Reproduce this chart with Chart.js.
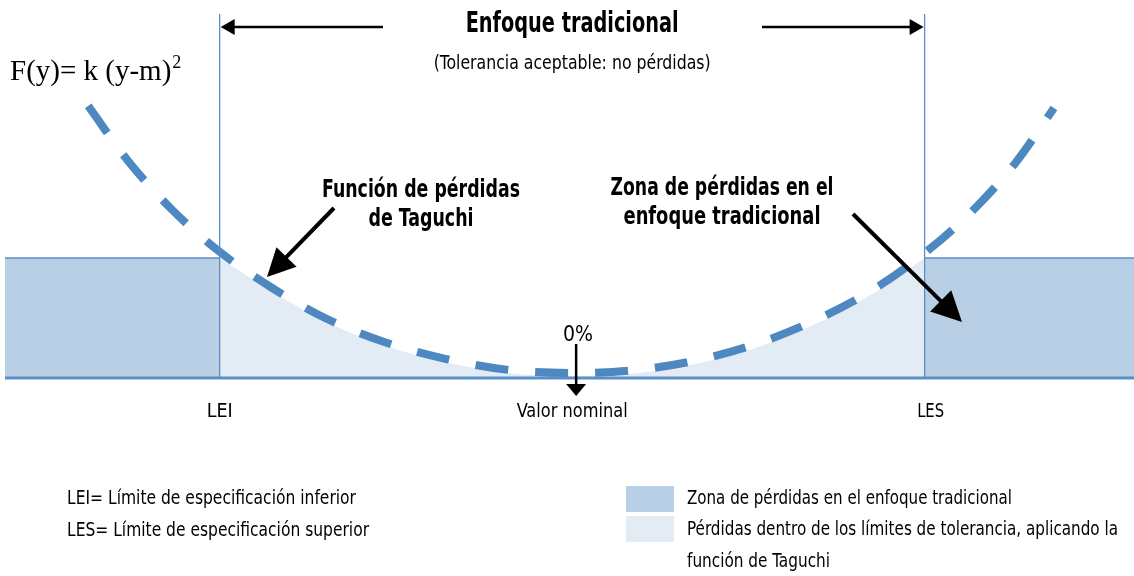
<!DOCTYPE html>
<html>
<head>
<meta charset="utf-8">
<script src="https://cdn.jsdelivr.net/npm/chart.js@4.4.1/dist/chart.umd.min.js"></script>
<style>
  html, body { margin: 0; padding: 0; background: #fff; }
  #wrap { width: 1134px; height: 576px; }
</style>
</head>
<body>
<div id="wrap"><canvas id="taguchi" width="1134" height="576"></canvas></div>
<script>
// x: distance from the nominal value (LEI = -1, LES = +1); y: loss (traditional loss zone = 1)
const xMin = -1.609, xMax = 1.594;
const limitsX = [-1, 1];
const lossLevel = 1;
const tickValues = [-1, 0, 1];
const tickLabels = ["LEI", "Valor nominal", "LES"];

// Taguchi loss curve
const curveX = [-1.373, -1.262, -1.140, -1.007, -0.851, -0.701, -0.533, -0.357, -0.179, 0, 0.182, 0.357, 0.530, 0.698, 0.857, 1.004, 1.138, 1.257, 1.367];
const curveY = [2.267, 1.817, 1.417, 1.067, 0.75, 0.50, 0.30, 0.158, 0.067, 0.042, 0.067, 0.15, 0.292, 0.492, 0.742, 1.05, 1.40, 1.79, 2.25];

// upper edge of the light area (losses inside the tolerance)
const fillX = [-1.0, -0.851, -0.701, -0.533, -0.357, -0.179, 0, 0.182, 0.357, 0.530, 0.698, 0.857, 1.0];
const fillY = [1.0, 0.72, 0.47, 0.27, 0.13, 0.04, 0.015, 0.04, 0.12, 0.26, 0.46, 0.71, 1.0];

const NARROW = '"Liberation Sans Narrow", "DejaVu Sans Condensed", "Roboto", sans-serif';
const SERIF = '"Liberation Serif", "DejaVu Serif", serif';
const DARK_ZONE = "#b9cfe5";
const LIGHT_ZONE = "#e3ebf5";
const EDGE = "#5b8fc7";
const CURVE = "#4d88c1";

const pts = (xs, ys) => xs.map((v, i) => ({ x: v, y: ys[i] }));

function arrow(ctx, x1, y1, x2, y2, len, half, lw) {
  const a = Math.atan2(y2 - y1, x2 - x1);
  const bx = x2 - len * Math.cos(a), by = y2 - len * Math.sin(a);
  ctx.save();
  ctx.strokeStyle = "#000";
  ctx.fillStyle = "#000";
  ctx.lineWidth = lw;
  ctx.beginPath();
  ctx.moveTo(x1, y1);
  ctx.lineTo(bx + Math.cos(a), by + Math.sin(a));
  ctx.stroke();
  ctx.beginPath();
  ctx.moveTo(x2, y2);
  ctx.lineTo(bx + half * Math.sin(a), by - half * Math.cos(a));
  ctx.lineTo(bx - half * Math.sin(a), by + half * Math.cos(a));
  ctx.closePath();
  ctx.fill();
  ctx.restore();
}

// maxW squeezes the text to the width it has in the original (condensed face)
function text(ctx, s, x, y, font, align, maxW) {
  ctx.font = font;
  ctx.textAlign = align || "center";
  if (maxW) ctx.fillText(s, x, y, maxW);
  else ctx.fillText(s, x, y);
}

const annotations = {
  id: "annotations",
  afterDatasetsDraw(chart) {
    const { ctx, scales: { x, y } } = chart;
    const lei = x.getPixelForValue(limitsX[0]);
    const les = x.getPixelForValue(limitsX[1]);
    const mid = x.getPixelForValue(0);
    const base = y.getPixelForValue(0);

    // limit lines
    ctx.save();
    ctx.strokeStyle = EDGE;
    ctx.lineWidth = 1.3;
    [lei, les].forEach((px) => {
      ctx.beginPath();
      ctx.moveTo(px, 14);
      ctx.lineTo(px, base);
      ctx.stroke();
    });
    ctx.restore();

    ctx.fillStyle = "#000";
    ctx.textBaseline = "alphabetic";

    // title
    text(ctx, "Enfoque tradicional", mid, 32, "bold 28px " + NARROW, "center", 213);
    text(ctx, "(Tolerancia aceptable: no pérdidas)", mid, 69, "20px " + NARROW, "center", 277);
    arrow(ctx, 383, 27, lei + 1, 27, 14, 8, 2.5);
    arrow(ctx, 762, 27, les - 1, 27, 14, 8, 2.5);

    // formula
    text(ctx, "F(y)= k (y-m)", 10, 80, "29px " + SERIF, "left");
    const w = ctx.measureText("F(y)= k (y-m)").width;
    text(ctx, "2", 10 + w + 1, 68, "18px " + SERIF, "left");

    // callouts
    text(ctx, "Función de pérdidas", 421, 197, "bold 25px " + NARROW, "center", 198);
    text(ctx, "de Taguchi", 421, 226, "bold 25px " + NARROW, "center", 105);
    arrow(ctx, 334, 208, 267, 277, 28, 14, 4);
    text(ctx, "Zona de pérdidas en el", 722, 195, "bold 25px " + NARROW, "center", 223);
    text(ctx, "enfoque tradicional", 722, 224, "bold 25px " + NARROW, "center", 197);
    arrow(ctx, 853, 214, 962, 322, 30, 15, 4);

    // nominal value
    text(ctx, "0%", 578, 341, "21px " + NARROW, "center", 30);
    arrow(ctx, mid + 4, 344, mid + 4, 396, 12, 10, 2.5);

    // x labels
    const tw = [26, 111, 27];
    tickValues.forEach((v, i) => {
      const off = i === 2 ? 6 : 0;
      text(ctx, tickLabels[i], x.getPixelForValue(v) + off, 417, "20px " + NARROW, "center", tw[i]);
    });

    // definitions
    text(ctx, "LEI= Límite de especificación inferior", 67, 504, "20px " + NARROW, "left", 289);
    text(ctx, "LES= Límite de especificación superior", 67, 536, "20px " + NARROW, "left", 302);

    // legend
    ctx.fillStyle = DARK_ZONE;
    ctx.fillRect(626, 486, 48, 26);
    ctx.fillStyle = LIGHT_ZONE;
    ctx.fillRect(626, 516, 48, 26);
    ctx.fillStyle = "#000";
    text(ctx, "Zona de pérdidas en el enfoque tradicional", 687, 504, "20px " + NARROW, "left", 325);
    text(ctx, "Pérdidas dentro de los límites de tolerancia, aplicando la", 687, 535, "20px " + NARROW, "left", 431);
    text(ctx, "función de Taguchi", 687, 567, "20px " + NARROW, "left", 143);
  },
};

new Chart(document.getElementById("taguchi"), {
  type: "scatter",
  data: {
    datasets: [
      {
        label: "Zona de pérdidas (LEI)",
        data: [{ x: xMin, y: lossLevel }, { x: limitsX[0], y: lossLevel }],
        showLine: true,
        fill: "origin",
        backgroundColor: DARK_ZONE,
        borderColor: EDGE,
        borderWidth: 1.5,
        pointRadius: 0,
        order: 5,
      },
      {
        label: "Zona de pérdidas (LES)",
        data: [{ x: limitsX[1], y: lossLevel }, { x: xMax, y: lossLevel }],
        showLine: true,
        fill: "origin",
        backgroundColor: DARK_ZONE,
        borderColor: EDGE,
        borderWidth: 1.5,
        pointRadius: 0,
        order: 5,
      },
      {
        label: "Pérdidas dentro de tolerancia",
        data: pts(fillX, fillY),
        showLine: true,
        fill: "origin",
        backgroundColor: LIGHT_ZONE,
        borderWidth: 0,
        pointRadius: 0,
        cubicInterpolationMode: "monotone",
        order: 4,
      },
      {
        label: "Base",
        data: [{ x: xMin, y: 0 }, { x: xMax, y: 0 }],
        showLine: true,
        borderColor: EDGE,
        borderWidth: 3,
        pointRadius: 0,
        order: 3,
      },
      {
        label: "F(y)",
        data: pts(curveX, curveY),
        showLine: true,
        borderColor: CURVE,
        borderWidth: 8,
        borderDash: [33, 27],
        borderCapStyle: "butt",
        pointRadius: 0,
        cubicInterpolationMode: "monotone",
        order: 1,
      },
    ],
  },
  options: {
    responsive: false,
    devicePixelRatio: 1,
    animation: false,
    layout: { padding: { left: 5, right: 0, top: 6, bottom: 192 } },
    scales: {
      x: { type: "linear", min: xMin, max: xMax, display: false },
      y: { type: "linear", min: -0.05, max: 3.1, display: false },
    },
    plugins: { legend: { display: false }, tooltip: { enabled: false } },
  },
  plugins: [annotations],
});
</script>
</body>
</html>
